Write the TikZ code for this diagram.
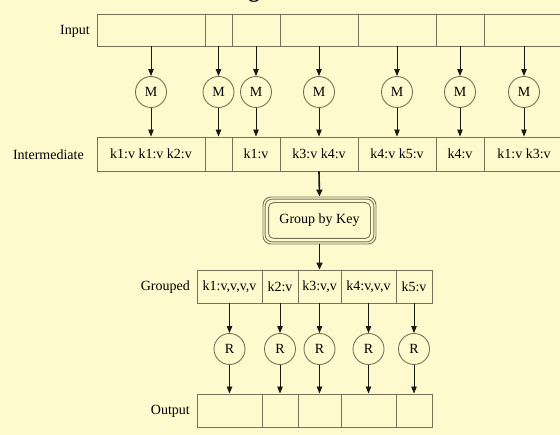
\documentclass[tikz,border=0pt]{standalone}
\usepackage{fontspec}
\setmainfont{Liberation Serif}
\usetikzlibrary{arrows.meta,calc}
\definecolor{bg}{RGB}{255,250,205}
\definecolor{ln}{RGB}{120,115,88}
\definecolor{ar}{RGB}{25,25,20}
\begin{document}
\begin{tikzpicture}[x=1pt,y=-1pt,
  txt/.style={font=\fontsize{14}{16}\selectfont},
  cell/.style={txt,draw=ln,line width=0.9pt,rectangle,inner sep=0pt},
  opnode/.style={txt,draw=ln,line width=0.9pt,circle,minimum size=31pt,inner sep=0pt},
  lbl/.style={txt,anchor=east,inner sep=0pt},
  arr/.style={draw=ar,line width=0.9pt,-{Triangle[length=7pt,width=5.5pt]}},
  heavyarr/.style={draw=ar,line width=1.6pt,-{Triangle[length=7pt,width=6pt]}},
  gbox/.style={draw=ln,line width=0.9pt,rounded corners=7pt}]
\fill[bg] (0,0) rectangle (560,435);
\useasboundingbox (0,0) rectangle (560,435);
\begin{scope}
\clip (0,0) rectangle (560,435);
\node[anchor=base,inner sep=0pt,font=\fontsize{22}{24}\selectfont\bfseries] (ttl) at (254,-2) {g};

% Input row
\node[lbl] (linput) at (90,31) {Input};
\node[cell,minimum width=108pt,minimum height=32pt] (in1) at (151,30) {};
\node[cell,minimum width=27pt,minimum height=32pt] (in2) at (218.5,30) {};
\node[cell,minimum width=48pt,minimum height=32pt] (in3) at (256,30) {};
\node[cell,minimum width=78pt,minimum height=32pt] (in4) at (319,30) {};
\node[cell,minimum width=78pt,minimum height=32pt] (in5) at (397,30) {};
\node[cell,minimum width=48pt,minimum height=32pt] (in6) at (460,30) {};
\node[cell,minimum width=80pt,minimum height=32pt] (in7) at (524,30) {};

% Map nodes
\foreach \i/\cx in {1/151,2/218.5,3/256,4/319,5/397,6/460,7/524}
  \node[opnode] (m\i) at (\cx,92) {M};

% Intermediate row
\node[lbl] (linter) at (84,155) {Intermediate};
\node[cell,minimum width=108pt,minimum height=34pt] (mid1) at (151,154) {k1:v k1:v k2:v};
\node[cell,minimum width=27pt,minimum height=34pt] (mid2) at (218.5,154) {};
\node[cell,minimum width=48pt,minimum height=34pt] (mid3) at (256,154) {k1:v};
\node[cell,minimum width=78pt,minimum height=34pt] (mid4) at (319,154) {k3:v k4:v};
\node[cell,minimum width=78pt,minimum height=34pt] (mid5) at (397,154) {k4:v k5:v};
\node[cell,minimum width=48pt,minimum height=34pt] (mid6) at (460,154) {k4:v};
\node[cell,minimum width=80pt,minimum height=34pt] (mid7) at (524,154) {k1:v k3:v};

\foreach \i in {1,...,7}{
  \draw[arr] (in\i.south) -- (m\i.north);
  \draw[arr] (m\i.south) -- (mid\i.north);
}

% Group by key
\node[txt,draw=ln,line width=0.9pt,rounded corners=8pt,minimum width=113pt,minimum height=47pt,inner sep=0pt] (gbk) at (319.5,220.5) {Group by Key};
\draw[gbox] ($(gbk.north west)+(2.6,2.6)$) rectangle ($(gbk.south east)+(-2.6,-2.6)$);
\draw[gbox,rounded corners=5pt] ($(gbk.north west)+(6,6)$) rectangle ($(gbk.south east)+(-6,-6)$);
\draw[heavyarr] (mid4.south) -- (gbk.north);

% Grouped row
\node[lbl] (lgroup) at (190,287) {Grouped};
\node[cell,minimum width=65pt,minimum height=33pt] (g1) at (229.5,286.5) {k1:v,v,v,v};
\node[cell,minimum width=36pt,minimum height=33pt] (g2) at (280,286.5) {k2:v};
\node[cell,minimum width=43pt,minimum height=33pt] (g3) at (319.5,286.5) {k3:v,v};
\node[cell,minimum width=55pt,minimum height=33pt] (g4) at (368.5,286.5) {k4:v,v,v};
\node[cell,minimum width=36pt,minimum height=33pt] (g5) at (414,286.5) {k5:v};
\draw[heavyarr] (gbk.south) -- (g3.north);

% Reduce nodes
\foreach \i/\cx in {1/229.5,2/280,3/319.5,4/368.5,5/414}
  \node[opnode] (r\i) at (\cx,349) {R};

% Output row
\node[lbl] (loutput) at (190,411) {Output};
\node[cell,minimum width=65pt,minimum height=33pt] (o1) at (229.5,410.5) {};
\node[cell,minimum width=36pt,minimum height=33pt] (o2) at (280,410.5) {};
\node[cell,minimum width=43pt,minimum height=33pt] (o3) at (319.5,410.5) {};
\node[cell,minimum width=55pt,minimum height=33pt] (o4) at (368.5,410.5) {};
\node[cell,minimum width=36pt,minimum height=33pt] (o5) at (414,410.5) {};

\foreach \i in {1,...,5}{
  \draw[arr] (g\i.south) -- (r\i.north);
  \draw[arr] (r\i.south) -- (o\i.north);
}
\end{scope}
\end{tikzpicture}
\end{document}
